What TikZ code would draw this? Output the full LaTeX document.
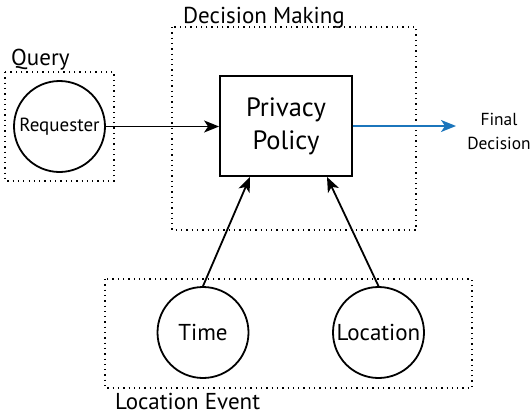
\documentclass[tikz,border=0pt]{standalone}
\usepackage{fontspec}
\setmainfont{PT Sans}
\usetikzlibrary{arrows.meta}
\definecolor{flowblue}{RGB}{27,117,188}
\tikzset{
  group/.style={draw, line width=1.3pt, dash pattern=on 1.3pt off 4pt},
  entity/.style={draw, circle, line width=1.8pt, minimum size=91pt, inner sep=0pt},
  policybox/.style={draw, rectangle, line width=1.8pt, minimum width=132pt, minimum height=100pt,
    align=center, font=\fontsize{26.5}{33}\selectfont},
  grouplabel/.style={anchor=base west, inner sep=0pt, font=\fontsize{23}{27}\selectfont},
  flow/.style={line width=1.8pt, -{Stealth[length=15pt,width=12pt,inset=4pt]}},
}
\begin{document}
\begin{tikzpicture}[x=1pt,y=-1pt]
\useasboundingbox (0,0) rectangle (532,415);

% grouping frames
\draw[group] (5,72) rectangle (114,181);
\draw[group] (172,27) rectangle (416,230);
\draw[group] (105,279) rectangle (472,388);

\node[grouplabel] (qlab) at (11,65) {Query};
\node[grouplabel] (dlab) at (183,23) {Decision Making};
\node[grouplabel] (elab) at (115,409.5) {Location Event};

% nodes
\node[entity, font=\fontsize{19}{22}\selectfont] (req) at (59.5,126.5) {Requester};
\node[policybox] (pp) at (286,126) {Privacy\\Policy};
\node[entity, font=\fontsize{23}{27}\selectfont] (time) at (203,332.5) {Time};
\node[entity, font=\fontsize{23}{27}\selectfont] (loc) at (378.5,332.5) {Location};
\node[align=center, inner sep=0pt, font=\fontsize{17.4}{24}\selectfont] (fd) at (499,131) {Final\\Decision};
\coordinate (fdin) at (456,126);

% connectors
\draw[flow] (req.east) -- (pp.west |- req.east);
\draw[flow, flowblue] (pp.east) -- (fdin);
\draw[flow] (time.north) -- ([xshift=-36pt]pp.south);
\draw[flow] (loc.north) -- ([xshift=41pt]pp.south);
\end{tikzpicture}
\end{document}
